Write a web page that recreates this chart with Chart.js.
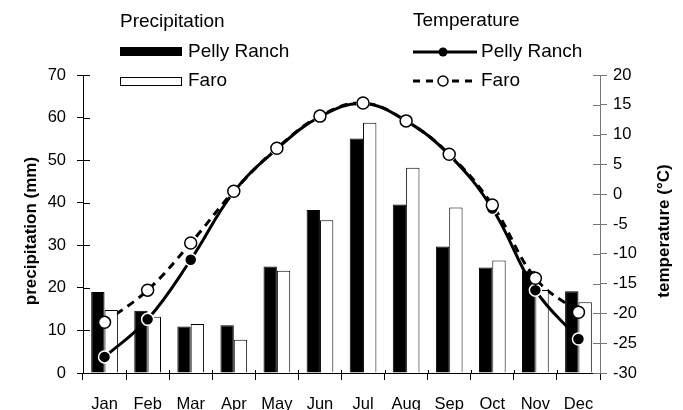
<!DOCTYPE html>
<html>
<head>
<meta charset="utf-8">
<script src="https://cdn.jsdelivr.net/npm/chart.js@4/dist/chart.umd.min.js"></script>
<style>
  html, body { margin: 0; padding: 0; background: #fff; }
  canvas { display: block; }
</style>
</head>
<body>
<canvas id="climateChart" width="683" height="410"></canvas>
<script>
// ---- data ----
const months = ["Jan", "Feb", "Mar", "Apr", "May", "Jun", "Jul", "Aug", "Sep", "Oct", "Nov", "Dec"];
const stations = ["Pelly Ranch", "Faro"];

// precipitation (mm), left axis
const pellyPrecip = [19.0, 14.6, 10.9, 11.2, 25.0, 38.3, 55.1, 39.6, 29.7, 24.8, 24.0, 19.2];
const faroPrecip = [14.8, 13.2, 11.5, 7.8, 24.0, 35.9, 58.8, 48.2, 38.9, 26.4, 19.5, 16.6];

// temperature (°C), right axis
const pellyTemp = [-27.3, -21.0, -11.0, 0.4, 7.6, 13.0, 15.2, 12.3, 6.6, -2.4, -16.1, -24.3];
const faroTemp = [-21.5, -16.1, -8.2, 0.5, 7.7, 13.1, 15.3, 12.3, 6.7, -1.8, -14.1, -19.8];

const FONT = "'Liberation Sans', Arial, sans-serif";

Chart.defaults.font.family = FONT;
Chart.defaults.color = "#000";

// ---- legend + axis titles drawn by hand ----
const legendPlugin = {
    id: "climateLegend",
    afterDraw(chart) {
        const ctx = chart.ctx;
        const area = chart.chartArea;
        ctx.save();

        ctx.fillStyle = "#000";
        ctx.font = "19px " + FONT;
        ctx.textBaseline = "middle";
        ctx.textAlign = "left";

        ctx.fillText("Precipitation", 120, 22);
        ctx.fillText(stations[0], 188, 52);
        ctx.fillText(stations[1], 188, 81);

        ctx.fillText("Temperature", 413, 21);
        ctx.fillText(stations[0], 481, 52);
        ctx.fillText(stations[1], 481, 81);

        // bar swatches
        ctx.fillRect(120, 47, 62, 9);
        ctx.fillStyle = "#fff";
        ctx.fillRect(120, 77, 62, 8);
        ctx.strokeStyle = "#000";
        ctx.lineWidth = 1;
        ctx.strokeRect(120.5, 77.5, 61, 8);

        // solid line + dot
        ctx.lineWidth = 3;
        ctx.beginPath();
        ctx.moveTo(413, 52);
        ctx.lineTo(477, 52);
        ctx.stroke();
        ctx.fillStyle = "#000";
        ctx.beginPath();
        ctx.arc(443, 52, 4.5, 0, Math.PI * 2);
        ctx.fill();

        // dashed line + open circle
        ctx.setLineDash([7, 6]);
        ctx.beginPath();
        ctx.moveTo(413, 81);
        ctx.lineTo(477, 81);
        ctx.stroke();
        ctx.setLineDash([]);
        ctx.fillStyle = "#fff";
        ctx.lineWidth = 1.5;
        ctx.beginPath();
        ctx.arc(443, 81, 5, 0, Math.PI * 2);
        ctx.fill();
        ctx.stroke();

        // axis titles, both reading bottom to top
        const midY = (area.top + area.bottom) / 2 + 7;
        ctx.fillStyle = "#000";
        ctx.font = "bold 17px " + FONT;
        ctx.textAlign = "center";
        [["precipitation (mm)", 31], ["temperature (°C)", 664]].forEach(([text, x]) => {
            ctx.save();
            ctx.translate(x, midY);
            ctx.rotate(-Math.PI / 2);
            ctx.fillText(text, 0, 0);
            ctx.restore();
        });

        ctx.restore();
    }
};

// ticks on the axes cross the axis line: draw the inner half
const innerTicks = {
    id: "innerTicks",
    afterDraw(chart) {
        const { ctx, chartArea, scales } = chart;
        ctx.save();
        ctx.lineWidth = 1;

        ctx.strokeStyle = "#000";
        scales.y.ticks.forEach(t => {
            const py = Math.round(scales.y.getPixelForValue(t.value)) + 0.5;
            ctx.beginPath();
            ctx.moveTo(chartArea.left, py);
            ctx.lineTo(chartArea.left + 7, py);
            ctx.stroke();
        });

        const half = (scales.x.getPixelForValue(1) - scales.x.getPixelForValue(0)) / 2;
        months.forEach((m, i) => {
            const px = Math.round(scales.x.getPixelForValue(i) - half) + 0.5;
            ctx.beginPath();
            ctx.moveTo(px, chartArea.bottom);
            ctx.lineTo(px, chartArea.bottom - 3);
            ctx.stroke();
        });

        ctx.strokeStyle = "#777";
        scales.y2.ticks.forEach(t => {
            const py = Math.round(scales.y2.getPixelForValue(t.value)) + 0.5;
            ctx.beginPath();
            ctx.moveTo(chartArea.right, py);
            ctx.lineTo(chartArea.right - 7, py);
            ctx.stroke();
        });

        ctx.restore();
    }
};

new Chart(document.getElementById("climateChart"), {
    type: "bar",
    data: {
        labels: months,
        datasets: [
            {
                // Faro temperature curve sits behind the bars
                type: "line",
                label: stations[1] + " temperature",
                data: faroTemp,
                yAxisID: "y2",
                borderColor: "#000",
                borderWidth: 3,
                borderDash: [8, 6],
                pointRadius: 0,
                tension: 0.4,
                fill: false,
                order: 5
            },
            {
                label: stations[0],
                data: pellyPrecip,
                yAxisID: "y",
                backgroundColor: "#000",
                borderColor: "#000",
                borderWidth: 1,
                categoryPercentage: 0.62,
                barPercentage: 1,
                order: 4
            },
            {
                label: stations[1],
                data: faroPrecip,
                yAxisID: "y",
                backgroundColor: "#fff",
                borderColor: "#000",
                borderWidth: 1,
                categoryPercentage: 0.62,
                barPercentage: 1,
                order: 4
            },
            {
                type: "line",
                label: stations[0] + " temperature",
                data: pellyTemp,
                yAxisID: "y2",
                borderColor: "#000",
                borderWidth: 3,
                pointRadius: 0,
                tension: 0.4,
                fill: false,
                order: 3
            },
            {
                type: "line",
                label: stations[0] + " points",
                data: pellyTemp,
                yAxisID: "y2",
                showLine: false,
                pointRadius: 6,
                pointBackgroundColor: "#000",
                pointBorderColor: "#fff",
                pointBorderWidth: 1.5,
                order: 2
            },
            {
                type: "line",
                label: stations[1] + " points",
                data: faroTemp,
                yAxisID: "y2",
                showLine: false,
                pointRadius: 6,
                pointBackgroundColor: "#fff",
                pointBorderColor: "#000",
                pointBorderWidth: 1.5,
                order: 1
            }
        ]
    },
    options: {
        responsive: false,
        animation: false,
        devicePixelRatio: 1,
        layout: { padding: { top: 75, left: 0, right: 0, bottom: 0 } },
        plugins: {
            legend: { display: false },
            tooltip: { enabled: false }
        },
        scales: {
            x: {
                grid: { drawOnChartArea: false, tickLength: 7, color: "#000", offset: true },
                border: { color: "#000", width: 1 },
                ticks: { font: { size: 16.5 }, padding: 15, maxRotation: 0, autoSkip: false },
                afterFit(scale) { scale.height = 37; }
            },
            y: {
                position: "left",
                min: 0,
                max: 70,
                grid: { drawOnChartArea: false, tickLength: 6, color: "#000" },
                border: { color: "#000", width: 1 },
                ticks: { stepSize: 10, padding: 11, font: { size: 16.5 } },
                afterFit(scale) { scale.width = 83; }
            },
            y2: {
                position: "right",
                min: -30,
                max: 20,
                grid: { drawOnChartArea: false, tickLength: 7, color: "#777" },
                border: { color: "#777", width: 1 },
                ticks: { stepSize: 5, padding: 6, font: { size: 16.5 } },
                afterFit(scale) { scale.width = 83; }
            }
        }
    },
    plugins: [innerTicks, legendPlugin]
});
</script>
</body>
</html>
